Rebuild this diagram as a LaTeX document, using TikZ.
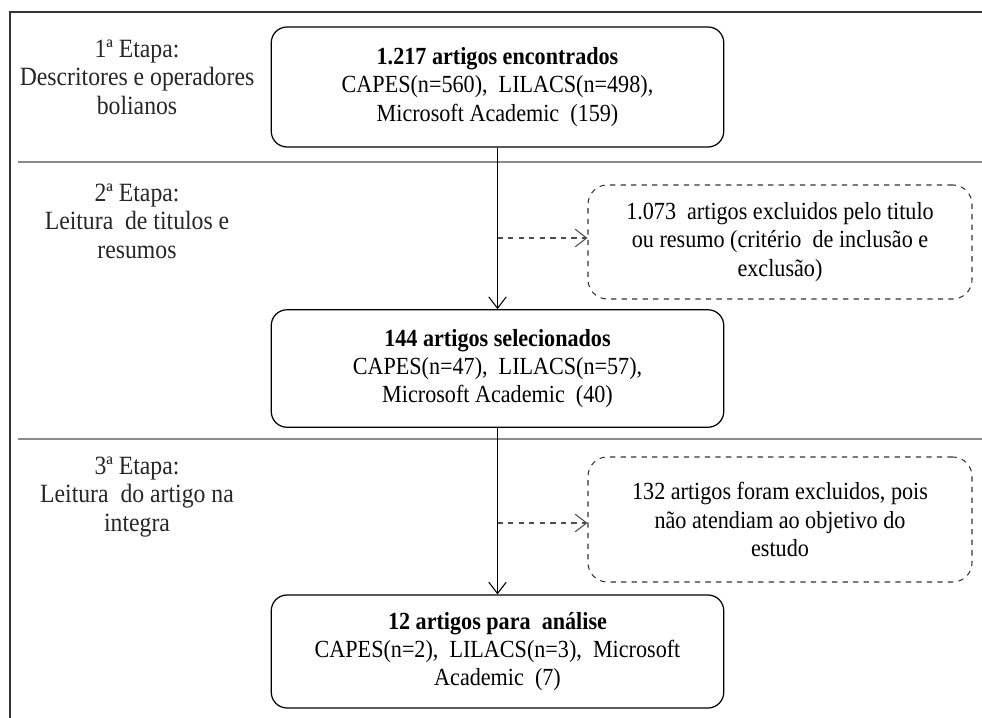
\documentclass[tikz,border=0pt]{standalone}
\usepackage{fontspec}
\setmainfont[FakeStretch=0.9]{Liberation Serif}
\usetikzlibrary{arrows.meta,positioning,calc}

\begin{document}
\begin{tikzpicture}[
  >={Straight Barb[length=6.5pt,width=10pt]},
  font=\fontsize{14}{16}\selectfont,
  box/.style={draw, line width=0.7pt, rounded corners=9pt, rectangle, minimum width=9.05cm, minimum height=2.35cm, align=center, inner sep=2pt},
  excl/.style={box, dashed, minimum width=7.68cm, rounded corners=11pt, line width=0.6pt, draw=black!80},
  etapa/.style={align=center, text=black!85, font=\fontsize{15}{16.2}\selectfont},
  sep/.style={draw=black!45, line width=0.6pt},
  arr/.style={->, line width=0.6pt},
  dasharr/.style={->, dashed, line width=0.6pt, black!70}
]
\useasboundingbox (0,0) rectangle (19.64,-14.36);
\draw[line width=0.8pt, black!80] (0.2,-14.36) -- (0.2,-0.24) -- (19.64,-0.24);
\draw[sep] (0.36,-3.24) -- (19.64,-3.24);
\draw[sep] (0.36,-8.78) -- (19.64,-8.78);

\node[etapa] (etapa1) at (2.74,-1.54) {1ª Etapa:\\Descritores e operadores\\bolianos};
\node[etapa] (etapa2) at (2.74,-4.42) {2ª Etapa:\\Leitura\ \ de titulos e\\resumos};
\node[etapa] (etapa3) at (2.74,-9.94) {3ª Etapa:\\Leitura\ \ do artigo na\\integra};

\node[box, minimum height=2.4cm] (found) at (9.95,-1.74) {\textbf{1.217 artigos encontrados}\\CAPES(n=560),\ \ LILACS(n=498),\\Microsoft Academic\ \ (159)};
\node[box] (selected) at (9.95,-7.37) {\textbf{144 artigos selecionados}\\CAPES(n=47),\ \ LILACS(n=57),\\Microsoft Academic\ \ (40)};
\node[box, minimum height=2.26cm] (final) at (9.95,-13.03) {\textbf{12 artigos para\ \ análise}\\CAPES(n=2),\ \ LILACS(n=3),\ \ Microsoft\\Academic\ \ (7)};
\node[excl, minimum height=2.28cm] (excl1) at (15.6,-4.84) {1.073\ \ artigos excluidos pelo titulo\\ou resumo (critério\ \ de inclusão e\\exclusão)};
\node[excl, minimum height=2.5cm] (excl2) at (15.6,-10.39) {132 artigos foram excluidos, pois\\não atendiam ao objetivo do\\estudo};

\coordinate (c1) at (9.95,-4.76);
\coordinate (c2) at (9.95,-10.46);

\draw[arr] (found.south) -- (selected.north);
\draw[arr] (selected.south) -- (final.north);
\draw[dasharr] (c1) -- (c1 -| excl1.west);
\draw[dasharr] (c2) -- (c2 -| excl2.west);
\end{tikzpicture}
\end{document}
